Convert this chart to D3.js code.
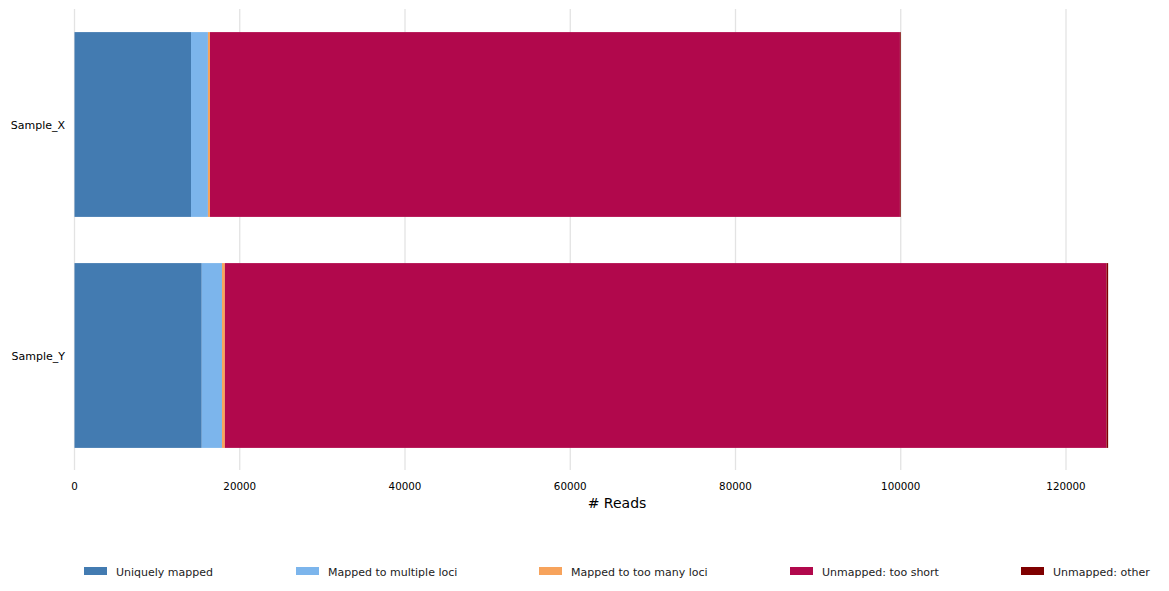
<!DOCTYPE html>
<html><head><meta charset="utf-8">
<script src="https://cdn.jsdelivr.net/npm/d3@7"></script>
<style>body{margin:0;background:#fff;font-family:"DejaVu Sans",sans-serif;}</style>
</head><body><svg id="c" width="1169" height="591"></svg>
<script>
const samples = ["Sample_X", "Sample_Y"];
const seriesNames = ["Uniquely mapped", "Mapped to multiple loci", "Mapped to too many loci", "Unmapped: too short", "Unmapped: other"];
const seriesColors = ["#437bb1", "#7cb5ec", "#f7a35c", "#b1084c", "#7f0000"];
const uniquely = [14100, 15400];
const multiple = [2050, 2450];
const tooMany = [250, 350];
const tooShort = [83500, 106700];
const other = [100, 200];
const xTicks = [0, 20000, 40000, 60000, 80000, 100000, 120000];

const svg = d3.select("#c");
const x = d3.scaleLinear().domain([0, 120000]).range([74.5, 1066]);
const y = d3.scaleBand().domain(samples).range([9, 471]).paddingInner(0.2).paddingOuter(0.1);

// grid
svg.append("g").selectAll("line").data(xTicks).join("line")
  .attr("x1", d => x(d)).attr("x2", d => x(d)).attr("y1", 9).attr("y2", 470)
  .attr("stroke", "#e3e3e3").attr("stroke-width", 1.3);

const table = samples.map((s, i) => ({sample: s, v: [uniquely[i], multiple[i], tooMany[i], tooShort[i], other[i]]}));
table.forEach(row => {
  let acc = 0;
  row.v.forEach((v, k) => {
    svg.append("rect").attr("x", x(acc)).attr("width", x(acc + v) - x(acc))
      .attr("y", y(row.sample)).attr("height", y.bandwidth()).attr("fill", seriesColors[k]);
    acc += v;
  });
});

// x axis labels
svg.append("g").selectAll("text").data(xTicks).join("text")
  .attr("x", d => x(d)).attr("y", 490).attr("text-anchor", "middle")
  .attr("font-size", 10.3).attr("fill", "#000").text(d => d);
svg.append("text").attr("x", 617).attr("y", 508).attr("text-anchor", "middle")
  .attr("font-size", 14).attr("fill", "#000").text("# Reads");

// y labels
svg.append("g").selectAll("text").data(samples).join("text")
  .attr("x", 65).attr("y", d => y(d) + y.bandwidth() / 2 + 4.5).attr("text-anchor", "end")
  .attr("font-size", 11).attr("fill", "#000").text(d => d);

// legend
const legX = [84, 296, 539, 790, 1021];
const lg = svg.append("g").selectAll("g").data(seriesNames).join("g")
  .attr("transform", (d, i) => `translate(${legX[i]},567)`);
lg.append("rect").attr("width", 23).attr("height", 8).attr("fill", (d, i) => seriesColors[i]);
lg.append("text").attr("x", 32).attr("y", 9).attr("font-size", 11).attr("fill", "#222").text(d => d);
</script></body></html>
